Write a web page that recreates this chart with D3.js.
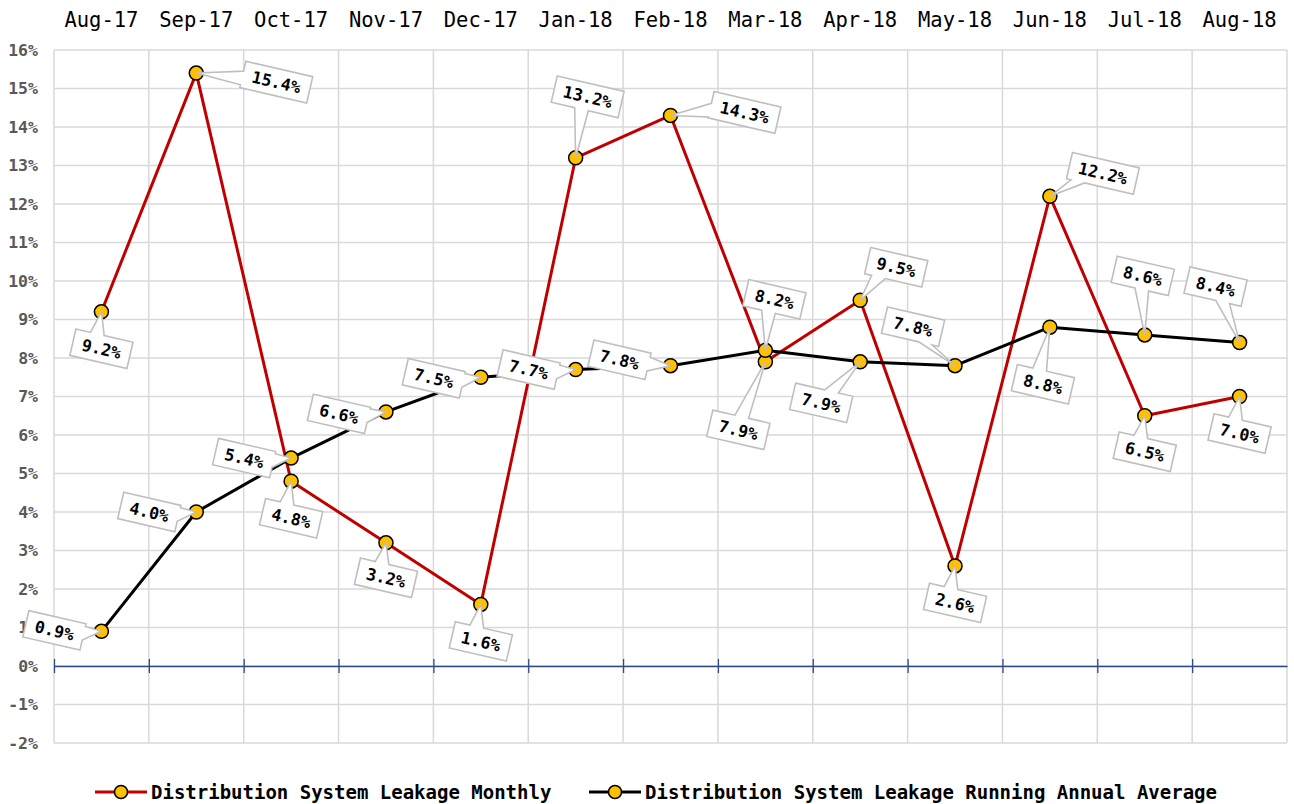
<!DOCTYPE html>
<html>
<head>
<meta charset="utf-8">
<script src="https://cdn.jsdelivr.net/npm/d3@7"></script>
<style>
  body { margin: 0; background: #fff; }
  svg { display: block; }
</style>
</head>
<body>
<script>
// chart data
var months = ["Aug-17", "Sep-17", "Oct-17", "Nov-17", "Dec-17", "Jan-18", "Feb-18",
              "Mar-18", "Apr-18", "May-18", "Jun-18", "Jul-18", "Aug-18"];
var monthly = [9.2, 15.4, 4.8, 3.2, 1.6, 13.2, 14.3, 7.9, 9.5, 2.6, 12.2, 6.5, 7.0];
var annualAvg = [0.9, 4.0, 5.4, 6.6, 7.5, 7.7, 7.8, 8.2, 7.9, 7.8, 8.8, 8.6, 8.4];
var yTicks = [-2, -1, 0, 1, 2, 3, 4, 5, 6, 7, 8, 9, 10, 11, 12, 13, 14, 15, 16];
var seriesNames = ["Distribution System Leakage Monthly",
                   "Distribution System Leakage Running Annual Average"];

// where each callout box sits, relative to its point (px)
var monthlyLabelPos = [[0,37],[80,9],[0,37],[0,35],[0,37],[12,-61],[74,-3],
                       [-27,68],[36,-33],[0,37],[53,-23],[0,36],[0,37]];
var avgLabelPos = [[-47,-1],[-47,0],[-47,0],[-47,2],[-47,1],[-47,0],[-51,-6],
                   [9,-51],[-39,41],[-42,-39],[-7,57],[-2,-59],[-24,-56]];

var width = 1294, height = 804;
var plotLeft = 54, plotRight = 1287, plotTop = 50, plotBottom = 743;
var mono = "'DejaVu Sans Mono', 'Liberation Mono', monospace";

var svg = d3.select("body").append("svg")
    .attr("width", width)
    .attr("height", height);

var x = d3.scaleBand()
    .domain(months)
    .range([plotLeft, plotRight]);
var y = d3.scaleLinear()
    .domain([-2, 16])
    .range([plotBottom, plotTop]);
var cx = function(i) { return x(months[i]) + x.bandwidth() / 2; };

////////////////////////// grid //////////////////////////
var grid = svg.append("g").attr("stroke", "#d9d9d9").attr("stroke-width", 1.5);
grid.selectAll("line.h")
    .data(yTicks)
    .enter().append("line")
    .attr("class", "h")
    .attr("x1", plotLeft).attr("x2", plotRight)
    .attr("y1", d => y(d)).attr("y2", d => y(d));
var bounds = months.map(m => x(m)).concat([plotRight]);
grid.selectAll("line.v")
    .data(bounds)
    .enter().append("line")
    .attr("class", "v")
    .attr("x1", d => d).attr("x2", d => d)
    .attr("y1", plotTop).attr("y2", plotBottom);

// zero axis with tick marks
var zero = svg.append("g")
    .attr("transform", "translate(0," + y(0) + ")")
    .call(d3.axisBottom(d3.scaleLinear().domain([plotLeft, plotRight]).range([plotLeft, plotRight]))
        .tickValues(bounds.slice(0, -1)).tickSizeInner(6).tickSizeOuter(0).tickFormat(""));
zero.select(".domain").attr("stroke", "#2f4a8a").attr("stroke-width", 1.3);
zero.selectAll(".tick line").attr("stroke", "#2f4a8a").attr("stroke-width", 1.3)
    .attr("y1", -7).attr("y2", 7);

// y tick labels
svg.append("g").selectAll("text")
    .data(yTicks)
    .enter().append("text")
    .attr("x", 38)
    .attr("y", d => y(d))
    .attr("dy", "0.36em")
    .attr("text-anchor", "end")
    .style("font-family", mono)
    .style("font-weight", "bold")
    .style("font-size", "16.5px")
    .style("fill", "#595959")
    .text(d => d + "%");

// category labels on top
svg.append("g").selectAll("text")
    .data(months)
    .enter().append("text")
    .attr("x", d => x(d) + x.bandwidth() / 2)
    .attr("y", 27)
    .attr("text-anchor", "middle")
    .style("font-family", mono)
    .style("font-size", "20.5px")
    .style("fill", "#000")
    .text(d => d);

////////////////////////// series //////////////////////////
var series = [
  { values: monthly, color: "#c00000", pos: monthlyLabelPos },
  { values: annualAvg, color: "#000000", pos: avgLabelPos }
];

var line = d3.line()
    .x((d, i) => cx(i))
    .y(d => y(d));

series.forEach(function(s) {
  svg.append("path")
      .datum(s.values)
      .attr("fill", "none")
      .attr("stroke", s.color)
      .attr("stroke-width", 3)
      .attr("stroke-linejoin", "round")
      .attr("d", line);
  svg.append("g").selectAll("circle")
      .data(s.values)
      .enter().append("circle")
      .attr("cx", (d, i) => cx(i))
      .attr("cy", d => y(d))
      .attr("r", 7)
      .attr("fill", "#ffc000")
      .attr("stroke", "#000")
      .attr("stroke-width", 1.5);
});

////////////////////////// callout labels //////////////////////////
var angle = 13;
function callout(px, py, bx, by, w, h) {
  // point in the rotated frame of the box
  var a = -angle * Math.PI / 180;
  var dx = px - bx, dy = py - by;
  var lx = dx * Math.cos(a) - dy * Math.sin(a);
  var ly = dx * Math.sin(a) + dy * Math.cos(a);
  var hw = w / 2, hh = h / 2, b = 7;
  var clamp = (v, m) => Math.max(-m + b + 1, Math.min(m - b - 1, v));
  var pts;
  if (Math.abs(lx) / hw >= Math.abs(ly) / hh) {
    var c = clamp(ly * 0.4, hh);
    if (lx > 0) {
      pts = [[-hw,-hh],[hw,-hh],[hw,c-b],[lx,ly],[hw,c+b],[hw,hh],[-hw,hh]];
    } else {
      pts = [[-hw,-hh],[hw,-hh],[hw,hh],[-hw,hh],[-hw,c+b],[lx,ly],[-hw,c-b]];
    }
  } else {
    var c2 = clamp(lx * 0.4 - 4, hw);
    if (ly < 0) {
      pts = [[-hw,-hh],[c2-b,-hh],[lx,ly],[c2+b,-hh],[hw,-hh],[hw,hh],[-hw,hh]];
    } else {
      pts = [[-hw,-hh],[hw,-hh],[hw,hh],[c2+b,hh],[lx,ly],[c2-b,hh],[-hw,hh]];
    }
  }
  return "M" + pts.map(p => p[0].toFixed(1) + "," + p[1].toFixed(1)).join("L") + "Z";
}

series.forEach(function(s) {
  var g = svg.append("g").selectAll("g")
      .data(s.values)
      .enter().append("g")
      .attr("transform", function(d, i) {
        return "translate(" + (cx(i) + s.pos[i][0]) + "," + (y(d) + s.pos[i][1]) + ") rotate(" + angle + ")";
      });
  g.append("path")
      .attr("d", function(d, i) {
        var txt = d.toFixed(1) + "%";
        var w = txt.length * 9.9 + 19;
        return callout(cx(i), y(d), cx(i) + s.pos[i][0], y(d) + s.pos[i][1], w, 27);
      })
      .attr("fill", "#fff")
      .attr("stroke", "#bfbfbf")
      .attr("stroke-width", 1.6)
      .attr("stroke-linejoin", "miter");
  g.append("text")
      .attr("text-anchor", "middle")
      .attr("dy", "0.36em")
      .style("font-family", mono)
      .style("font-weight", "bold")
      .style("font-size", "16.5px")
      .style("fill", "#000")
      .text(d => d.toFixed(1) + "%");
});

////////////////////////// legend //////////////////////////
var legendX = [95, 589];
var legend = svg.append("g").selectAll("g")
    .data(series)
    .enter().append("g")
    .attr("transform", (d, i) => "translate(" + legendX[i] + ",792)");
legend.append("line")
    .attr("x1", 0).attr("x2", 52)
    .attr("stroke", d => d.color)
    .attr("stroke-width", 3);
legend.append("circle")
    .attr("cx", 26).attr("r", 6.5)
    .attr("fill", "#ffc000")
    .attr("stroke", "#000")
    .attr("stroke-width", 1.5);
legend.append("text")
    .attr("x", 56)
    .attr("dy", "0.35em")
    .style("font-family", mono)
    .style("font-weight", "bold")
    .style("font-size", "19px")
    .style("fill", "#000")
    .text((d, i) => seriesNames[i]);
</script>
</body>
</html>
